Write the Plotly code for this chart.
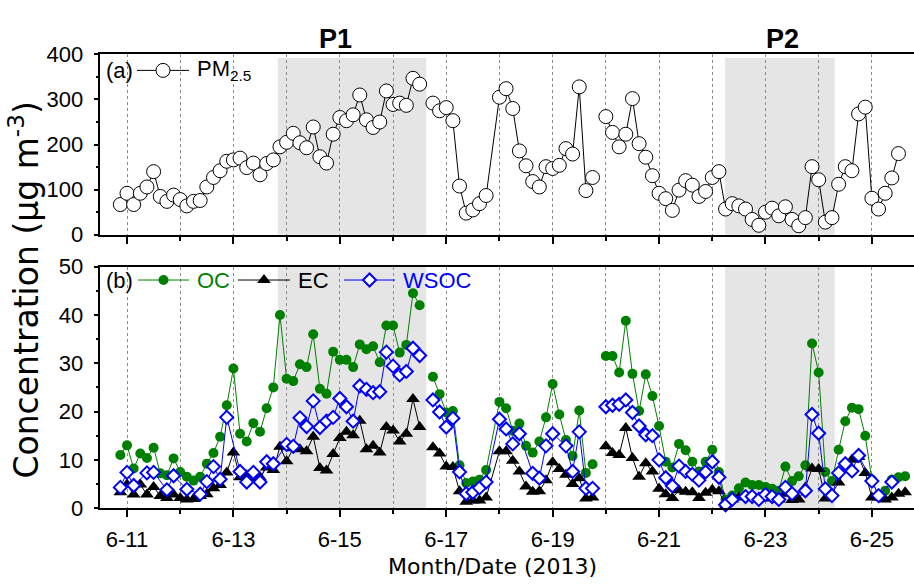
import pandas as pd
import plotly.graph_objects as go

# 3-hourly sampling grid, 2013-06-10 21:00 through 2013-06-25 15:00
TIMES = pd.date_range("2013-06-10 21:00", periods=119, freq="3h")

# sample slots where every line is interrupted
LINE_BREAKS = ["2013-06-16 15:00", "2013-06-19 21:00"]

PM25 = [67, 92, 67, 92, 106, 140, 85, 74, 88, 78, 64, 74, 76, 106, 127, 142,
        163, 166, 170, 149, 159, 133, 158, 166, 195, 205, 225, 204, 193, 239,
        173, 159, 223, 260, 253, 266, 310, 255, 238, 250, 319, 289, 292, 287,
        347, 334, None, 292, 275, 282, 253, 108, 48, 55, 69, 87, None, 305,
        324, 280, 186, 153, 118, 106, 151, 147, 154, 191, 179, 328, 98, 127,
        None, 262, 227, 195, 223, 302, 202, 172, 131, 92, 80, 54, 99, 120,
        110, 85, 96, 127, 140, 57, 69, 64, 57, 34, 21, 50, 59, 42, 62, 34,
        20, 38, 151, 122, 28, 38, 112, 151, 142, 268, 283, 81, 57, 92, 126,
        180, None]

OC = [11.0, 13.0, 8.2, 11.3, 10.4, 12.5, 7.2, 6.8, 10.3, 7.5, 6.5, 5.7, 6.5,
      9.2, 11.4, 14.8, 21.3, 28.9, 15.4, 13.8, 17.6, 15.8, 20.7, 25.0, 40.0,
      26.8, 26.3, 29.8, 29.2, 36.0, 24.7, 23.7, 32.4, 30.7, 30.7, 29.2, 33.9,
      32.9, 33.5, 30.2, 37.8, 37.8, 32.2, 33.8, 44.5, 42.0, None, 27.2, 23.6,
      19.8, 20.1, 8.9, 5.2, 5.5, 5.9, 7.9, None, 22.0, 20.7, 16.0, 17.5, 12.9,
      11.5, 13.8, 18.8, 25.7, 19.4, 14.1, 10.8, 20.2, 7.3, 9.1, None, 31.5,
      31.5, 28.1, 38.8, 27.8, 20.1, 27.7, 23.2, 17.0, 9.6, 8.4, 13.3, 12.0,
      9.6, 7.6, 9.6, 12.1, 7.5, 1.8, 2.6, 4.1, 5.3, 4.8, 4.8, 4.4, 4.0, 3.6,
      8.6, 5.6, 6.6, 8.9, 34.1, 28.1, 7.5, 5.6, 12.1, 18.0, 20.8, 20.5, 15.0,
      5.9, 2.5, 3.6, 5.9, 6.4, 6.6]

EC = [3.3, 4.9, 2.8, 4.9, 2.8, 4.4, 2.5, 2.1, 2.8, 2.1, 1.8, 1.9, 2.5, 2.9,
      4.1, 4.8, 7.4, 11.5, 6.4, 6.8, 6.2, 6.4, 8.4, 7.9, 12.7, 9.7, 12.4, 12.2,
      11.8, 14.8, 8.3, 7.8, 11.2, 14.5, 15.8, 15.1, 18.1, 12.2, 12.9, 11.5,
      16.8, 16.1, 13.8, 15.4, 22.6, 16.8, None, 12.6, 11.3, 8.6, 8.5, 3.5, 1.3,
      1.6, 1.6, 2.2, None, 11.8, 11.8, 9.8, 7.6, 4.5, 3.4, 3.5, 5.8, 9.5, 8.1,
      6.9, 5.0, 6.2, 2.0, 2.2, None, 12.8, 11.4, 11.0, 16.6, 10.4, 6.5, 9.3,
      7.6, 4.0, 2.9, 2.1, 3.7, 3.4, 3.3, 2.1, 3.2, 3.8, 3.5, 0.5, 1.8, 2.2,
      2.3, 2.2, 2.0, 2.2, 2.0, 1.8, 3.0, 1.7, 1.8, 4.3, 8.2, 8.1, 2.0, 3.0,
      5.3, 7.9, 10.0, 10.6, 7.3, 2.2, 2.2, 1.8, 2.2, 3.0, 3.3]

WSOC = [4.3, 7.4, 4.7, None, 7.3, 7.4, None, 3.8, 6.7, None, 3.9, None, 2.9,
        5.5, 8.6, 6.0, 18.8, None, 7.6, 5.4, 7.4, 5.4, 9.6, 9.2, None, 13.2,
        12.8, 18.7, 16.9, 22.2, 16.7, 18.0, 18.8, 22.7, 21.0, 18.0, 25.3, 24.6,
        23.9, 24.1, 32.3, 29.4, 27.6, 28.3, 33.1, 31.6, None, 22.4, 19.9, 16.8,
        18.6, 7.5, 3.0, 3.3, 4.2, 5.4, None, 18.4, 16.4, 13.3, 15.4, None, 7.2,
        6.2, 12.9, 15.4, None, 12.9, 7.6, 15.8, 4.1, 4.1, None, 21.0, 21.3,
        21.5, 22.4, 19.8, 17.0, 15.2, 15.0, 10.0, 6.3, 4.6, 8.7, 7.6, 7.0, 5.8,
        7.5, 9.6, 6.4, 0.7, 1.8, None, 2.4, 2.4, 1.8, 2.8, 2.4, 1.8, 4.3, 3.0,
        None, 3.6, 19.4, 15.5, 4.0, 2.6, 7.3, 9.2, 7.7, 10.9, None, 5.6, 2.6,
        None, 5.4, None, None]

# pollution episodes shaded in both panels: name, start, end, label x (px)
EPISODES = [("P1", "2013-06-13 20:00", "2013-06-16 15:00", 335),
            ("P2", "2013-06-22 05:45", "2013-06-24 07:15", 782)]

X_RANGE = ["2013-06-10 12:00", "2013-06-25 19:00"]

W, H = 914, 585
FONT = "Liberation Sans, Arial, sans-serif"
TITLE_FONT = "DejaVu Sans, Liberation Sans, sans-serif"


def series(values):
    """Drop missing samples, keeping a None where the line must break."""
    breaks = set(pd.to_datetime(LINE_BREAKS))
    xs, ys = [], []
    for t, v in zip(TIMES, values):
        if v is None:
            if t in breaks:
                xs.append(t)
                ys.append(None)
            continue
        xs.append(t)
        ys.append(v)
    return xs, ys


fig = go.Figure()

# ---- panel (a): PM2.5
x, y = series(PM25)
fig.add_trace(go.Scatter(
    x=x, y=y, xaxis="x2", yaxis="y2", mode="lines+markers",
    line=dict(color="black", width=1),
    marker=dict(symbol="circle", size=14, color="white",
                line=dict(color="black", width=1)),
    cliponaxis=False, showlegend=False))

# ---- panel (b): OC, EC, WSOC
styles = [
    (OC, "#008000", dict(symbol="circle", size=10, color="#008000",
                         line=dict(width=0))),
    (EC, "black", dict(symbol="triangle-up", size=12, color="black",
                       line=dict(width=0))),
    (WSOC, "#0000ff", dict(symbol="diamond", size=10, color="white",
                           line=dict(color="#0000ff", width=2))),
]
for vals, col, mk in styles:
    x, y = series(vals)
    fig.add_trace(go.Scatter(
        x=x, y=y, xaxis="x", yaxis="y", mode="lines+markers",
        line=dict(color=col, width=1), marker=mk,
        cliponaxis=False, showlegend=False))


# ---- in-panel keys, drawn on a pixel-space overlay axis
def key(x0, x1, yk, col, mk):
    fig.add_trace(go.Scatter(
        x=[x0, x1], y=[yk, yk], xaxis="x3", yaxis="y3", mode="lines",
        line=dict(color=col, width=1), showlegend=False, hoverinfo="skip"))
    fig.add_trace(go.Scatter(
        x=[(x0 + x1) / 2], y=[yk], xaxis="x3", yaxis="y3", mode="markers",
        marker=mk, showlegend=False, hoverinfo="skip"))


key(137, 189, 61, "black", dict(symbol="circle", size=14, color="white",
                                line=dict(color="black", width=1)))
key(138, 189, 280, "#008000", styles[0][2])
key(238, 290, 280, "black", styles[1][2])
key(344, 395, 280, "#0000ff", styles[2][2])

texts = [
    (104, 61, "(a)", "black"),
    (195, 61, "PM<sub>2.5</sub>", "black"),
    (104, 280, "(b)", "black"),
    (195, 280, "OC", "#008000"),
    (296, 280, "EC", "black"),
    (401, 280, "WSOC", "#0000ff"),
]
for tx, ty, t, c in texts:
    fig.add_annotation(x=tx, y=ty, xref="x3", yref="y3", text=t,
                       showarrow=False, xanchor="left", yanchor="middle",
                       font=dict(family=FONT, size=22, color=c))

# episode shading and labels
for name, t0, t1, lx in EPISODES:
    fig.add_shape(type="rect", xref="x2", yref="y2", x0=t0, x1=t1, y0=0,
                  y1=392, fillcolor="#e5e5e5", line=dict(width=0),
                  layer="below")
    fig.add_shape(type="rect", xref="x", yref="y domain", x0=t0, x1=t1,
                  y0=0, y1=1, fillcolor="#e5e5e5", line=dict(width=0),
                  layer="below")
    fig.add_annotation(x=lx, y=28, xref="x3", yref="y3",
                       text="<b>" + name + "</b>", showarrow=False,
                       xanchor="center", yanchor="middle",
                       font=dict(family=FONT, size=27, color="black"))

# shared axis titles
fig.add_annotation(x=25, y=291, xref="x3", yref="y3",
                   text="Concentration (\u03bcg m<sup>-3</sup>)",
                   textangle=-90, showarrow=False,
                   font=dict(family=TITLE_FONT, size=33, color="black"))
fig.add_annotation(x=492, y=579, xref="x3", yref="y3",
                   text="Month/Date (2013)", showarrow=False,
                   font=dict(family=TITLE_FONT, size=22, color="black"))

x_common = dict(
    type="date", range=X_RANGE, domain=[100.4 / W, 1.0],
    showline=True, linecolor="black", linewidth=1.5, mirror=True,
    ticks="outside", ticklen=7, tickwidth=1.5, tickcolor="black",
    dtick=2 * 86400000, tick0="2013-06-11", tickformat="%-m-%d",
    showgrid=True, gridcolor="#8c8c8c", gridwidth=1, griddash="dot",
    minor=dict(dtick=86400000, tick0="2013-06-11", ticks="outside",
               ticklen=4, tickwidth=1.5, tickcolor="black", showgrid=True,
               gridcolor="#8c8c8c", gridwidth=1, griddash="dot"),
    zeroline=False,
    tickfont=dict(family=FONT, size=22, color="black"),
)
y_common = dict(
    showline=True, linecolor="black", linewidth=1.5, mirror=False,
    ticks="outside", ticklen=5, tickwidth=1.5, tickcolor="black",
    showgrid=False, zeroline=False,
    tickfont=dict(family=FONT, size=22, color="black"),
    ticklabelstandoff=6,
)

fig.update_layout(
    width=W, height=H, margin=dict(l=0, r=0, t=0, b=0),
    paper_bgcolor="white", plot_bgcolor="rgba(0,0,0,0)",
    xaxis=dict(x_common, anchor="y", ticklabelstandoff=4),
    xaxis2=dict(x_common, anchor="y2", matches="x", showticklabels=False),
    yaxis=dict(y_common, domain=[1 - 518.3 / H, 1 - 266 / H], range=[0, 50],
               dtick=10, anchor="x",
               minor=dict(dtick=5, ticks="outside", ticklen=3,
                          tickwidth=1.5, tickcolor="black")),
    yaxis2=dict(y_common, domain=[1 - 232.7 / H, 1 - 44.3 / H],
                range=[0, 400], dtick=100, anchor="x2",
                minor=dict(dtick=50, ticks="outside", ticklen=3,
                           tickwidth=1.5, tickcolor="black")),
    xaxis3=dict(domain=[0, 1], range=[0, W], visible=False, anchor="y3",
                fixedrange=True),
    yaxis3=dict(domain=[0, 1], range=[H, 0], visible=False, anchor="x3",
                fixedrange=True),
)

fig.write_html("out.html")
